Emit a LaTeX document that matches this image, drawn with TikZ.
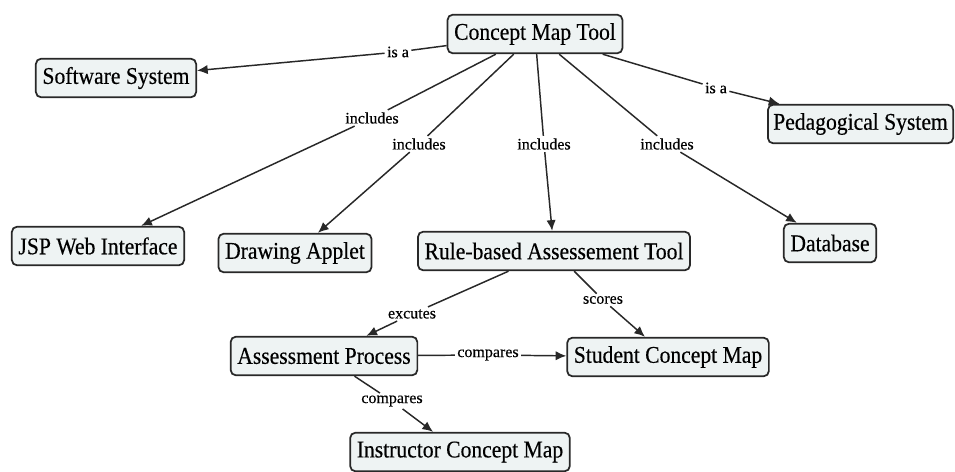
\documentclass[tikz,border=0pt]{standalone}
\usepackage{fontspec}
\setmainfont{Liberation Serif}
\newfontfamily\conceptfont[FakeStretch=0.9,FakeBold=0.4]{Liberation Serif}
\newfontfamily\linkfont[FakeBold=0.3]{Liberation Serif}
\usetikzlibrary{arrows.meta}

\definecolor{boxfill}{RGB}{238,243,243}
\definecolor{boxline}{RGB}{40,40,40}

\tikzset{every picture/.style={line width=0.75pt}}
\tikzset{
  concept/.style={draw=boxline, line width=1.3pt, fill=boxfill, rounded corners=4pt,
    font=\conceptfont\fontsize{18}{20}\selectfont, inner xsep=5pt, inner ysep=2pt,
    minimum height=29pt},
  linkword/.style={font=\linkfont\fontsize{12}{13}\selectfont, inner sep=1.5pt},
  link/.style={draw=boxline, line width=1.1pt},
  linkarrow/.style={link, -{Latex[length=8pt,width=7pt]}}
}

\begin{document}
\begin{tikzpicture}[x=0.75pt,y=0.75pt,yscale=-1,xscale=1]
	\clip (0,0) rectangle (955,471);
	\fill[white] (0,0) rectangle (955,471);

	% Concepts
	\node[concept] (cmt) at (535,34) {Concept Map Tool};
	\node[concept] (sws) at (116,78) {Software System};
	\node[concept, anchor=east, inner xsep=4pt] (peds) at (954,124) {Pedagogical System};
	\node[concept] (jsp) at (98,246) {JSP Web Interface};
	\node[concept] (dapp) at (295,253) {Drawing Applet};
	\node[concept] (rbat) at (554,251) {Rule-based Assessement Tool};
	\node[concept] (db) at (830,243) {Database};
	\node[concept] (aproc) at (324,356) {Assessment Process};
	\node[concept] (scm) at (668,357) {Student Concept Map};
	\node[concept] (icm) at (460,452) {Instructor Concept Map};

	% Linking words
	\node[linkword] (isaL) at (398,52) {is a};
	\node[linkword] (isaR) at (716,88) {is a};
	\node[linkword] (incA) at (372,118) {includes};
	\node[linkword] (incB) at (419,144) {includes};
	\node[linkword] (incC) at (544,144) {includes};
	\node[linkword] (incD) at (667,144) {includes};
	\node[linkword] (exc) at (412,314) {excutes};
	\node[linkword] (scr) at (603,300) {scores};
	\node[linkword] (cmpA) at (488,355) {compares};
	\node[linkword] (cmpB) at (392,401) {compares};

	% Links
	\draw[link] (cmt) -- (isaL);
	\draw[linkarrow] (isaL) -- (sws);
	\draw[link] (cmt) -- (isaR);
	\draw[linkarrow] (isaR) -- (peds);
	\draw[link] (cmt) -- (incA);
	\draw[linkarrow] (incA) -- (jsp);
	\draw[link] (cmt) -- (incB);
	\draw[linkarrow] (incB) -- (dapp);
	\draw[link] (cmt) -- (incC);
	\draw[linkarrow] (incC) -- (rbat);
	\draw[link] (cmt) -- (incD);
	\draw[linkarrow] (incD) -- (db);
	\draw[link] (rbat) -- (exc);
	\draw[linkarrow] (exc) -- (aproc);
	\draw[link] (rbat) -- (scr);
	\draw[linkarrow] (scr) -- (scm);
	\draw[link] (aproc) -- (cmpA);
	\draw[linkarrow] (cmpA) -- (scm);
	\draw[link] (aproc) -- (cmpB);
	\draw[linkarrow] (cmpB) -- (icm);

\end{tikzpicture}
\end{document}
